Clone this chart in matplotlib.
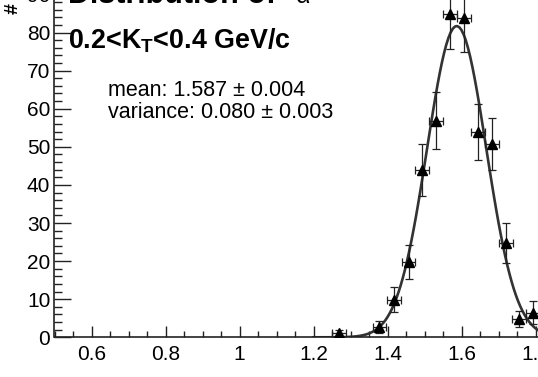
import numpy as np
import matplotlib
matplotlib.use("Agg")
import matplotlib.pyplot as plt
from matplotlib.ticker import FixedLocator, MultipleLocator, FuncFormatter

# ---- data ----
x_vals = [1.268, 1.378, 1.417, 1.457, 1.494, 1.531, 1.568, 1.606, 1.644, 1.682, 1.720, 1.755, 1.792]
y_vals = [1.0, 2.6, 9.9, 19.8, 43.9, 56.8, 84.8, 83.7, 53.9, 50.7, 24.7, 4.7, 6.5]
y_errs = [1.0, 1.6, 3.2, 4.5, 6.9, 7.5, 9.0, 8.8, 7.3, 6.9, 5.2, 2.1, 3.0]
x_half_width = 0.0185

fit_mean = 1.587
fit_sigma = 0.080
fit_amp = 81.7
fit_range = (1.20, 1.90)

x_ticks = [0.6, 0.8, 1.0, 1.2, 1.4, 1.6, 1.8]
y_ticks = [0, 10, 20, 30, 40, 50, 60, 70, 80, 90]

W, H = 538, 377
fig = plt.figure(figsize=(W / 100, H / 100), dpi=100)
plt.rcParams['font.family'] = ['Liberation Sans', 'DejaVu Sans']
plt.rcParams['mathtext.fontset'] = 'custom'
plt.rcParams['mathtext.rm'] = 'Liberation Sans'
plt.rcParams['mathtext.bf'] = 'Liberation Sans:bold'
plt.rcParams['mathtext.it'] = 'Liberation Sans:italic'

# axes geometry in pixels (extends beyond the figure, like the cropped reference)
x0_px, x1_px = 54.5, 54.5 + 1.4 * 370   # xlim 0.5 .. 1.9
y0_px = 337.3                           # y = 0
ppu_y = 3.81
ymax = 95
ax = fig.add_axes([x0_px / W, (H - y0_px) / H, (x1_px - x0_px) / W, ymax * ppu_y / H])
ax.set_xlim(0.5, 1.9)
ax.set_ylim(0, ymax)

# fit curve
xf = np.linspace(fit_range[0], fit_range[1], 120)
yf = fit_amp * np.exp(-0.5 * ((xf - fit_mean) / fit_sigma) ** 2)
ax.plot(xf, yf, color='#333333', lw=1.9, zorder=2, clip_on=True)

# data with error bars
ax.errorbar(x_vals, y_vals, yerr=y_errs, xerr=x_half_width, fmt='^', color='black',
            ms=6.5, ecolor='#222222', elinewidth=0.9, capsize=2.6, capthick=0.9, zorder=3)

# spines / ticks (ROOT style: ticks inside)
for s in ['top', 'right']:
    ax.spines[s].set_visible(False)
for s in ['left', 'bottom']:
    ax.spines[s].set_linewidth(1.2)
    ax.spines[s].set_color('#222222')

ax.xaxis.set_major_locator(FixedLocator(x_ticks))
ax.xaxis.set_minor_locator(MultipleLocator(0.05))
ax.yaxis.set_major_locator(FixedLocator(y_ticks))
ax.yaxis.set_minor_locator(MultipleLocator(2))
ax.xaxis.set_major_formatter(FuncFormatter(lambda v, p: f"{v:g}"))
ax.tick_params(axis='x', which='major', direction='in', length=8, width=1, colors='#222222',
               labelsize=15, pad=5.5, labelcolor='black')
ax.tick_params(axis='x', which='minor', direction='in', length=4, width=1, colors='#222222')
ax.tick_params(axis='y', which='major', direction='in', length=12, width=1, colors='#222222',
               labelsize=15, pad=3, labelcolor='black')
ax.tick_params(axis='y', which='minor', direction='in', length=6, width=1, colors='#222222')

# texts (figure pixel coordinates)
def fx(px):
    return px / W
def fy(py):
    return 1 - py / H

fig.text(fx(68), fy(3), "Distribution of", fontsize=22, fontweight='bold',
         ha='left', va='baseline')
fig.text(fx(296), fy(3), "α", fontsize=18, ha='left', va='baseline')
fig.text(fx(68), fy(48.3), r"0.2<K$_{\mathbf{T}}$<0.4 GeV/c", fontsize=19.4, fontweight='bold',
         ha='left', va='baseline')
fig.text(fx(108), fy(96), "mean: 1.587 ± 0.004", fontsize=15.5, ha='left', va='baseline')
fig.text(fx(108), fy(118), "variance: 0.080 ± 0.003", fontsize=15.5, ha='left', va='baseline')
fig.text(fx(5), fy(14), "#", fontsize=14, fontweight='bold', rotation=90, ha='left', va='bottom')

fig.savefig("out.png", dpi=100)
